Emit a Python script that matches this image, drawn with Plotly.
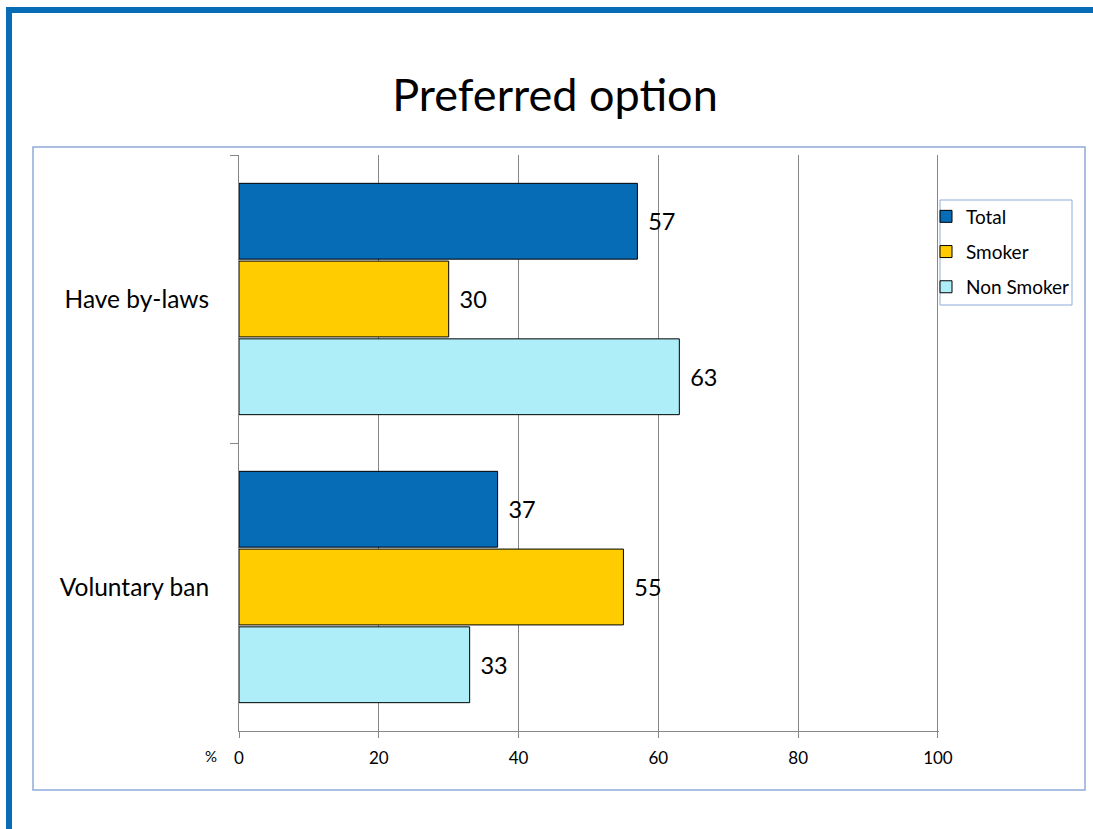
import plotly.graph_objects as go

# Survey results: preferred option, % of respondents
categories = ["Have by-laws", "Voluntary ban"]
series_names = ["Total", "Smoker", "Non Smoker"]
total = [57, 37]
smoker = [30, 55]
non_smoker = [63, 33]
x_ticks = [0, 20, 40, 60, 80, 100]

colors = ["#066cb5", "#ffcc00", "#aeeef8"]
W, H = 1093, 829
ML, MR, MT, MB = 239, 154, 155, 98
PW, PH = W - ML - MR, H - MT - MB

FONT = "Lato, Open Sans, sans-serif"
FRAME = "#8fabd9"


def px_x(px):
    return (px - ML) / PW


def px_y(py):
    return (H - MB - py) / PH


fig = go.Figure()
for name, vals, col in zip(series_names, [total, smoker, non_smoker], colors):
    fig.add_trace(go.Bar(
        name=name, y=categories, x=vals, orientation="h",
        marker=dict(color=col, line=dict(color="#000000", width=1)),
        text=vals, texttemplate="\u2004%{x}", textposition="outside",
        textfont=dict(size=23.5, color="#000000", family=FONT),
        cliponaxis=False, legendgroup=name,
    ))

shapes = [
    # outer chart frame
    dict(type="rect", xref="paper", yref="paper",
         x0=px_x(33), x1=px_x(1085), y0=px_y(790), y1=px_y(147),
         line=dict(color=FRAME, width=1.5), layer="below"),
    # legend box
    dict(type="rect", xref="paper", yref="paper",
         x0=px_x(940), x1=px_x(1072), y0=px_y(305), y1=px_y(200),
         line=dict(color=FRAME, width=1), layer="above"),
    # blue slide border, top and left
    dict(type="rect", xref="paper", yref="paper",
         x0=px_x(6), x1=px_x(1100), y0=px_y(13), y1=px_y(7),
         line=dict(width=0), fillcolor="#066cb5"),
    dict(type="rect", xref="paper", yref="paper",
         x0=px_x(6), x1=px_x(12), y0=px_y(840), y1=px_y(7),
         line=dict(width=0), fillcolor="#066cb5"),
]

fig.update_layout(
    width=W, height=H,
    margin=dict(l=ML, r=MR, t=MT, b=MB),
    paper_bgcolor="white", plot_bgcolor="white",
    barmode="group", bargap=0.19, bargroupgap=0.025,
    font=dict(family=FONT, color="#000000"),
    title=dict(text="Preferred option", x=555 / W, xanchor="center",
               y=1 - 95 / H, yanchor="middle",
               font=dict(size=45, family=FONT, color="#000000")),
    legend=dict(x=px_x(926), y=px_y(197.5), xanchor="left", yanchor="top",
                bgcolor="rgba(0,0,0,0)", borderwidth=0,
                font=dict(size=19, family=FONT, color="#000000"),
                traceorder="grouped", tracegroupgap=7.5),
    shapes=shapes,
    annotations=[dict(text="%", xref="paper", yref="paper",
                      x=px_x(219), y=px_y(767), xanchor="right",
                      showarrow=False,
                      font=dict(size=15, family=FONT, color="#000000"))],
)

fig.update_xaxes(
    range=[0, 100.15], tickvals=x_ticks, showgrid=True, gridcolor="#868686",
    gridwidth=1, showline=True, linecolor="#868686", linewidth=1,
    ticks="outside", ticklen=6, tickcolor="#868686", zeroline=False,
    ticklabelstandoff=6,
    tickfont=dict(size=17, family=FONT, color="#000000"),
)
fig.update_yaxes(
    autorange="reversed", showline=True, linecolor="#868686", linewidth=1,
    ticks="outside", ticklen=8, tickcolor="#868686", tickson="boundaries",
    showgrid=False, ticklabelstandoff=24,
    tickfont=dict(size=24.5, family=FONT, color="#000000"),
)

fig.write_html("out.html")
